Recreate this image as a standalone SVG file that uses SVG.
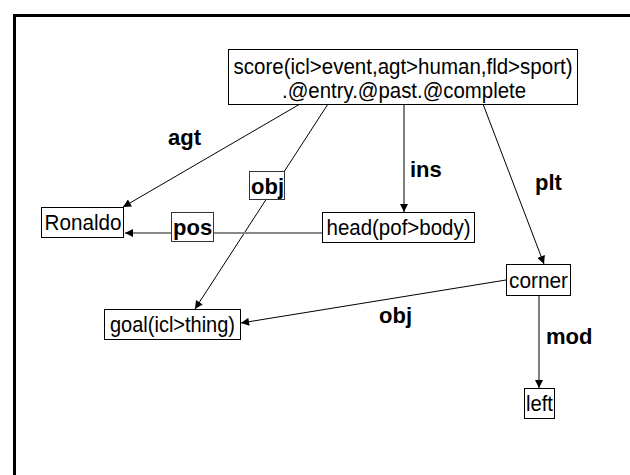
<svg xmlns="http://www.w3.org/2000/svg" width="630" height="475" viewBox="0 0 630 475">
  <style>
    .node rect { fill: #ffffff; stroke: #000000; stroke-width: 1; }
    .node text { font-family: "Liberation Sans", Arial, sans-serif; font-size: 22px; fill: #000000; text-anchor: middle; }
    .edge { fill: none; stroke: #000000; stroke-width: 1; }
    .edge.grey { stroke: #888888; stroke-width: 2; }
    .lbl { font-family: "Liberation Sans", Arial, sans-serif; font-size: 22px; font-weight: bold; fill: #000000; }
    .lblbox { fill: #ffffff; stroke: #333333; stroke-width: 1; }
  </style>
  <defs>
    <marker id="arrow" viewBox="0 0 10 10" refX="10" refY="5" markerWidth="10" markerHeight="8" markerUnits="userSpaceOnUse" orient="auto">
      <path d="M0,0 L10,5 L0,10 z" fill="#000000"/>
    </marker>
  </defs>

  <rect x="0" y="0" width="630" height="475" fill="#ffffff"/>

  <!-- frame -->
  <path d="M14.5,475 L14.5,15.5 L630,15.5" fill="none" stroke="#000000" stroke-width="3"/>

  <!-- connectors -->
  <g id="connectors">
    <line class="edge" x1="300" y1="104" x2="123" y2="207" marker-end="url(#arrow)"/>
    <line class="edge" x1="328" y1="104" x2="195" y2="309" marker-end="url(#arrow)"/>
    <line class="edge" x1="404" y1="104" x2="404" y2="212" marker-end="url(#arrow)"/>
    <line class="edge" x1="483" y1="104" x2="544" y2="264" marker-end="url(#arrow)"/>
    <line class="edge grey" x1="322" y1="233" x2="125" y2="233" marker-end="url(#arrow)"/>
    <line class="edge" x1="506" y1="280" x2="241" y2="323" marker-end="url(#arrow)"/>
    <line class="edge" x1="539" y1="295" x2="539" y2="388" marker-end="url(#arrow)"/>

    <text class="lbl" x="168" y="145">agt</text>
    <text class="lbl" x="410" y="177">ins</text>
    <text class="lbl" x="535" y="190">plt</text>
    <text class="lbl" x="379" y="323">obj</text>
    <text class="lbl" x="546" y="344">mod</text>

    <g id="label-obj">
      <rect class="lblbox" x="249.5" y="171.5" width="35" height="28"/>
      <text class="lbl" x="251" y="194">obj</text>
    </g>
    <g id="label-pos">
      <rect class="lblbox" x="171.5" y="212.5" width="42" height="29"/>
      <text class="lbl" x="173" y="235">pos</text>
    </g>
  </g>

  <!-- nodes -->
  <g id="score" class="node">
    <rect x="228.5" y="49.5" width="349" height="55"/>
    <text x="403" y="74" textLength="339" lengthAdjust="spacingAndGlyphs">score(icl&gt;event,agt&gt;human,fld&gt;sport)</text>
    <text x="404" y="98" textLength="244" lengthAdjust="spacingAndGlyphs">.@entry.@past.@complete</text>
  </g>
  <g id="ronaldo" class="node">
    <rect x="41.5" y="207.5" width="82" height="30"/>
    <text x="83" y="230" textLength="77" lengthAdjust="spacingAndGlyphs">Ronaldo</text>
  </g>
  <g id="head" class="node">
    <rect x="322.5" y="212.5" width="152" height="30"/>
    <text x="398.5" y="235" textLength="144" lengthAdjust="spacingAndGlyphs">head(pof&gt;body)</text>
  </g>
  <g id="corner" class="node">
    <rect x="506.5" y="264.5" width="64" height="31"/>
    <text x="538.5" y="288" textLength="59" lengthAdjust="spacingAndGlyphs">corner</text>
  </g>
  <g id="goal" class="node">
    <rect x="104.5" y="309.5" width="136" height="30"/>
    <text x="172.5" y="332" textLength="125" lengthAdjust="spacingAndGlyphs">goal(icl&gt;thing)</text>
  </g>
  <g id="left" class="node">
    <rect x="524.5" y="388.5" width="30" height="30"/>
    <text x="539.5" y="411" textLength="27" lengthAdjust="spacingAndGlyphs">left</text>
  </g>
</svg>
